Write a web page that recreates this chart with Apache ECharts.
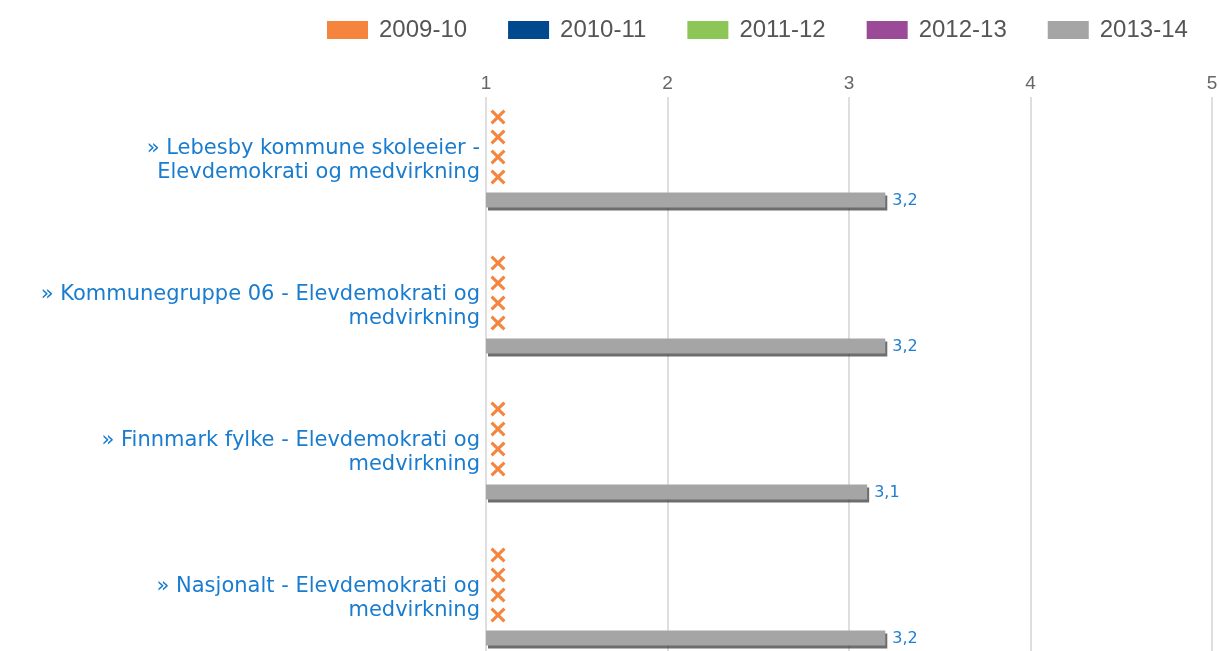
<!DOCTYPE html>
<html>
<head>
<meta charset="utf-8">
<script src="https://cdn.jsdelivr.net/npm/echarts@6/dist/echarts.min.js"></script>
<style>
  html, body { margin: 0; padding: 0; background: #fff; }
  #chart { width: 1220px; height: 651px; }
</style>
</head>
<body>
<div id="chart"></div>
<script>
// categories (line breaks as in the original)
const categories = [
  "» Lebesby kommune skoleeier -\nElevdemokrati og medvirkning",
  "» Kommunegruppe 06 - Elevdemokrati og\nmedvirkning",
  "» Finnmark fylke - Elevdemokrati og\nmedvirkning",
  "» Nasjonalt - Elevdemokrati og\nmedvirkning"
];
const years = ["2009-10", "2010-11", "2011-12", "2012-13", "2013-14"];
const colors = ["#f5843c", "#00498f", "#8cc657", "#9a4a96", "#a5a5a5"];

// values per year (null = no data, shown with an X)
const v2009 = [null, null, null, null];
const v2010 = [null, null, null, null];
const v2011 = [null, null, null, null];
const v2012 = [null, null, null, null];
const v2013 = [3.2, 3.2, 3.1, 3.2];
const yearValues = [v2009, v2010, v2011, v2012, v2013];

const xTicks = [1, 2, 3, 4, 5];
const xMin = xTicks[0];
const xMax = xTicks[xTicks.length - 1];

// vertical offset of the X marks per year slot
const markOffsets = [-53, -33, -13, 7];
const crossPath = "path://M0,2L2,0L7,5L12,0L14,2L9,7L14,12L12,14L7,9L2,14L0,12L5,7Z";

const series = [];
years.forEach((y, i) => {
  series.push({
    name: y,
    type: "bar",
    data: yearValues[i],
    barWidth: 15,
    barGap: "0%",
    animation: false,
    itemStyle: {
      color: colors[i],
      shadowColor: "rgba(60,60,60,0.75)",
      shadowOffsetX: 2,
      shadowOffsetY: 3,
      shadowBlur: 0,
    },
    label: {
      show: true,
      position: "right",
      distance: 7,
      offset: [0, 1],
      color: "#1f7fd0",
      fontFamily: "DejaVu Sans",
      fontSize: 16,
      formatter: (p) => String(p.value).replace(".", ","),
    },
  });
});

// X marks where a year has no value
years.forEach((y, i) => {
  const missing = [];
  yearValues[i].forEach((v, c) => {
    if (v === null) missing.push([xMin, c]);
  });
  if (!missing.length) return;
  series.push({
    name: y,
    type: "scatter",
    data: missing,
    symbol: crossPath,
    symbolSize: 15,
    symbolOffset: [12, markOffsets[i]],
    clip: false,
    animation: false,
    silent: true,
    itemStyle: { color: "#f5843c", opacity: 1 },
  });
});

const chart = echarts.init(document.getElementById("chart"), null, { renderer: "canvas" });

chart.setOption({
  backgroundColor: "#ffffff",
  legend: {
    data: years.map((y, i) => ({ name: y, itemStyle: { color: colors[i] } })),
    left: 322,
    top: 13,
    icon: "rect",
    itemWidth: 41,
    itemHeight: 18,
    itemGap: 41,
    textStyle: {
      fontFamily: "Liberation Sans",
      fontSize: 24,
      color: "#555555",
      padding: [0, 0, 0, 6],
    },
  },
  grid: {
    left: 486,
    top: 97,
    width: 726,
    height: 584,
    containLabel: false,
    outerBoundsMode: "none",
  },
  xAxis: {
    type: "value",
    position: "top",
    min: xMin,
    max: xMax,
    interval: 1,
    axisLine: { show: false },
    axisTick: { show: false },
    axisLabel: {
      color: "#666666",
      fontFamily: "Liberation Sans",
      fontSize: 19,
      margin: 4,
    },
    splitLine: {
      show: true,
      lineStyle: { color: "#dedede", width: 2 },
    },
  },
  yAxis: {
    type: "category",
    inverse: true,
    data: categories,
    axisLine: { show: false },
    axisTick: { show: false },
    axisLabel: {
      color: "#1a7ccf",
      fontFamily: "DejaVu Sans",
      fontSize: 21,
      lineHeight: 24,
      align: "right",
      margin: 6,
      // short empty last line lifts the label block above the band centre
      formatter: (v) => v + "\n{s| }",
      rich: {
        s: { lineHeight: 18, fontSize: 10 },
      },
    },
  },
  series: series,
});
</script>
</body>
</html>
